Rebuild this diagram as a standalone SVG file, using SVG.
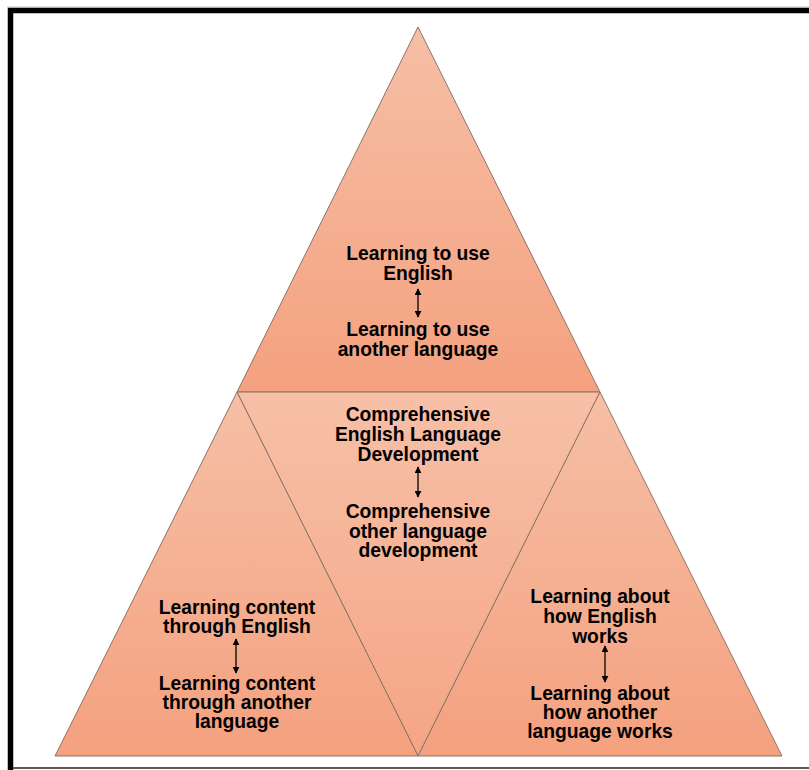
<svg xmlns="http://www.w3.org/2000/svg" width="809" height="770" viewBox="0 0 809 770">
<defs>
<linearGradient id="g" x1="0" y1="0" x2="0" y2="1">
<stop offset="0" stop-color="#f6bfa6"/>
<stop offset="1" stop-color="#f4a17f"/>
</linearGradient>
<linearGradient id="gm" x1="0" y1="0" x2="0" y2="1">
<stop offset="0" stop-color="#f7c0a7"/>
<stop offset="1" stop-color="#f4a585"/>
</linearGradient>
<marker id="ah" viewBox="0 0 10 10" refX="9" refY="5" markerWidth="7" markerHeight="7" markerUnits="userSpaceOnUse" orient="auto-start-reverse">
<path d="M0,0 L10,5 L0,10 z" fill="#000"/>
</marker>
</defs>
<style>
.tri{stroke:#8a7468;stroke-width:1;stroke-linejoin:round}
.t{font-family:"Liberation Sans",Arial,sans-serif;font-weight:bold;font-size:19.3px;fill:#000;text-anchor:middle}
.arr{stroke:#000;stroke-width:1.3;fill:none;marker-start:url(#ah);marker-end:url(#ah)}
</style>
<rect width="809" height="770" fill="#fff"/>
<line x1="7" y1="7" x2="809" y2="7" stroke="#c8c8c8" stroke-width="1"/>
<path d="M10.5,770 V10.5 H809" fill="none" stroke="#000" stroke-width="5.5"/>
<line x1="13" y1="768" x2="809" y2="768" stroke="#5a5a5a" stroke-width="2"/>

<g id="top">
<polygon class="tri" points="418,27 600,392 237,392" fill="url(#g)"/>
<text class="t" x="418" y="260">Learning to use</text>
<text class="t" x="418" y="280">English</text>
<text class="t" x="418" y="336">Learning to use</text>
<text class="t" x="418" y="356">another language</text>
</g>
<g id="middle">
<polygon class="tri" points="237,392 600,392 418,756" fill="url(#gm)"/>
<text class="t" x="418" y="421">Comprehensive</text>
<text class="t" x="418" y="441">English Language</text>
<text class="t" x="418" y="461">Development</text>
<text class="t" x="418" y="518">Comprehensive</text>
<text class="t" x="418" y="538">other language</text>
<text class="t" x="418" y="557">development</text>
</g>
<g id="left">
<polygon class="tri" points="237,392 418,756 55,756" fill="url(#g)"/>
<text class="t" x="237" y="614">Learning content</text>
<text class="t" x="237" y="633">through English</text>
<text class="t" x="237" y="690">Learning content</text>
<text class="t" x="237" y="709">through another</text>
<text class="t" x="237" y="728">language</text>
</g>
<g id="right">
<polygon class="tri" points="600,392 782,756 418,756" fill="url(#g)"/>
<text class="t" x="600" y="603">Learning about</text>
<text class="t" x="600" y="623">how English</text>
<text class="t" x="600" y="643">works</text>
<text class="t" x="600" y="700">Learning about</text>
<text class="t" x="600" y="719">how another</text>
<text class="t" x="600" y="738">language works</text>
</g>
<g id="connectors">
<line class="arr" x1="418" y1="289" x2="418" y2="317"/>
<line class="arr" x1="418" y1="467" x2="418" y2="497"/>
<line class="arr" x1="236" y1="639" x2="236" y2="673"/>
<line class="arr" x1="605" y1="646" x2="605" y2="682"/>
</g>
</svg>
